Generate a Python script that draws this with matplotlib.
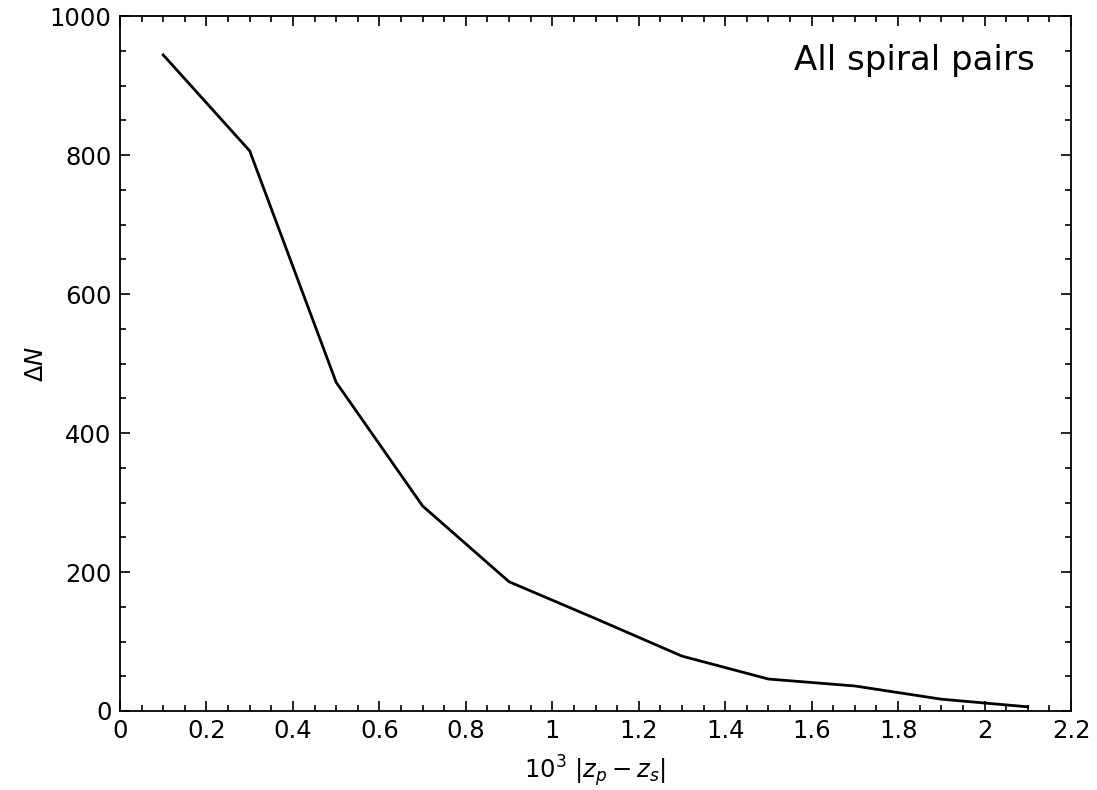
import matplotlib
matplotlib.use("Agg")
from matplotlib import pyplot as plt
from matplotlib.ticker import MultipleLocator

# separation bins (10^3 |z_p - z_s|) and excess pair counts
dz = [0.1, 0.3, 0.5, 0.7, 0.9, 1.1, 1.3, 1.5, 1.7, 1.9, 2.1]
dN = [944, 806, 473, 295, 186, 133, 79, 46, 36, 17, 6]

fig = plt.figure(figsize=(10.97, 7.9), dpi=100)
ax = fig.add_axes([0.1094, 0.1, 0.8669, 0.8797])
ax.plot(dz, dN, color="black", lw=2.0)

ax.set_xlim(0, 2.2)
ax.set_ylim(0, 1000)
ax.xaxis.set_minor_locator(MultipleLocator(0.05))
ax.yaxis.set_major_locator(MultipleLocator(200))
ax.yaxis.set_minor_locator(MultipleLocator(50))
ax.set_xticks([0, 0.2, 0.4, 0.6, 0.8, 1, 1.2, 1.4, 1.6, 1.8, 2, 2.2])
ax.set_xticklabels(["0", "0.2", "0.4", "0.6", "0.8", "1", "1.2", "1.4", "1.6", "1.8", "2", "2.2"])
ax.tick_params(which="both", direction="in", top=True, right=True, labelsize=17.5, width=1.2)
ax.tick_params(which="major", length=7, pad=6)
ax.tick_params(which="minor", length=4)
for s in ax.spines.values():
    s.set_linewidth(1.3)

ax.set_xlabel(r"$10^3\ |z_p - z_s|$", fontsize=17.5, labelpad=7)
ax.set_ylabel(r"$\Delta N$", fontsize=17.5, labelpad=1)
ax.text(0.962, 0.96, "All spiral pairs", transform=ax.transAxes, ha="right", va="top", fontsize=24.5)

plt.savefig("out.png", dpi=100)
